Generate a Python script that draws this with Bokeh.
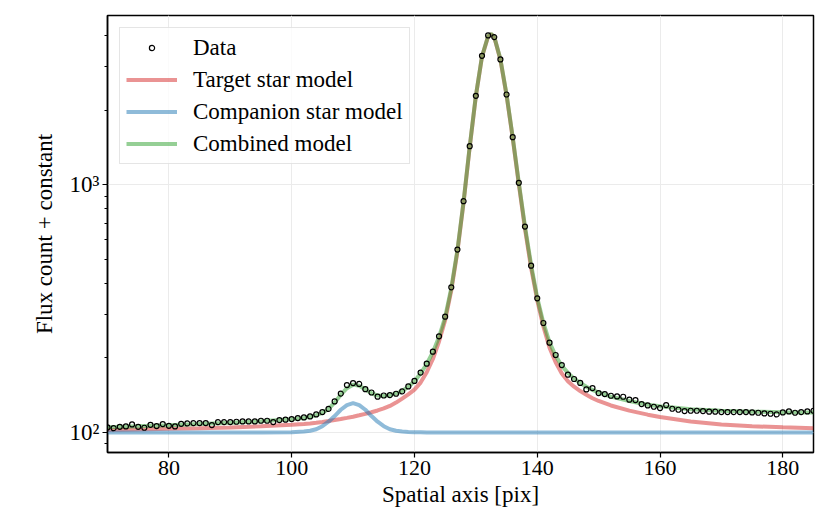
from bokeh.plotting import figure
from bokeh.models import Range1d, FixedTicker, Legend, LegendItem, ColumnDataSource
from bokeh.embed import file_html
from bokeh.resources import INLINE

# ---- data ----
spatial_pix = list(range(70, 186))
flux_data = [
    104.8, 104.1, 105.4, 105.8, 107.8, 105.4, 104.5, 107.4, 106.1, 108.1,   # 70-79
    106.4, 105.8, 108.4, 108.8, 109.1, 109.1, 109.1, 107.1, 110.1, 110.1,   # 80-89
    110.1, 110.5, 110.8, 110.8, 110.8, 111.5, 111.5, 110.1, 112.2, 112.6,   # 90-99
    113.3, 114.3, 115.0, 116.1, 118.3, 120.9, 124.5, 133.5, 143.5, 155.4,   # 100-109
    158.3, 157.0, 149.5, 145.0, 139.5, 141.0, 141.6, 143.3, 146.5, 153.5,   # 110-119
    161.5, 174.5, 189.5, 212.0, 244.4, 293.6, 385.7, 547.6, 859.0, 1433.0,  # 120-129
    2289.0, 3321.0, 4013.0, 3952.0, 3210.0, 2317.0, 1558.0, 1019.0, 678.5, 471.8,  # 130-139
    348.1, 276.7, 230.5, 205.5, 187.2, 171.1, 164.4, 158.5, 149.2, 151.1,   # 140-149
    144.3, 142.9, 140.7, 139.8, 139.4, 135.6, 135.2, 130.2, 128.6, 127.0,   # 150-159
    125.5, 129.0, 124.7, 123.5, 122.0, 122.4, 122.4, 122.0, 121.3, 121.3,   # 160-169
    120.9, 120.9, 120.9, 120.9, 120.9, 120.5, 120.1, 119.4, 119.0, 118.3,   # 170-179
    120.5, 121.6, 120.1, 120.9, 121.6, 122.4,                               # 180-185
]

model_pix = [70, 75, 80, 85, 90, 95, 100, 102, 103, 104, 105, 106, 107, 108, 109,
             110, 111, 112, 113, 114, 115, 116, 117, 118, 119, 120, 121, 122, 123,
             124, 125, 126, 127, 128, 129, 130, 131, 132, 132.5, 133, 134, 135, 136,
             137, 138, 139, 140, 141, 142, 143, 144, 145, 146, 147, 148, 149, 150,
             152, 155, 158, 160, 165, 170, 175, 180, 185]

target_model = [102.4, 102.9, 103.4, 104.0, 104.8, 105.9, 107.4, 108.2, 108.8, 109.5,
                110.3, 111.2, 112.2, 113.3, 114.5, 115.8, 117.3, 118.9, 120.7, 122.7,
                125.0, 128.0, 132.0, 137.0, 142.5, 149.0, 159.0, 175.0, 198.0, 233.0,
                284.0, 375.0, 538.0, 848.0, 1420.0, 2280.0, 3290.0, 3980.0, 4060.0,
                3950.0, 3200.0, 2300.0, 1545.0, 1005.0, 665.0, 462.0, 342.0, 268.0,
                220.0, 192.0, 173.0, 161.0, 153.0, 147.0, 142.0, 137.5, 134.0, 128.5,
                122.5, 118.0, 115.5, 110.8, 107.8, 106.0, 104.9, 104.1]

companion_model = [100.0, 100.0, 100.0, 100.0, 100.0, 100.0, 100.2, 100.8, 101.6, 103.0,
                   106.0, 110.5, 116.5, 123.5, 129.0, 131.4, 129.0, 123.5, 116.5, 110.5,
                   106.0, 103.0, 101.6, 100.8, 100.4, 100.2, 100.1, 100.0, 100.0, 100.0,
                   100.0, 100.0, 100.0, 100.0, 100.0, 100.0, 100.0, 100.0, 100.0,
                   100.0, 100.0, 100.0, 100.0, 100.0, 100.0, 100.0, 100.0, 100.0,
                   100.0, 100.0, 100.0, 100.0, 100.0, 100.0, 100.0, 100.0, 100.0, 100.0,
                   100.0, 100.0, 100.0, 100.0, 100.0, 100.0, 100.0, 100.0]

combined_model = [105.0, 106.0, 107.0, 108.3, 109.5, 111.0, 113.0, 114.5, 115.8, 117.5,
                  120.0, 124.5, 132.0, 142.0, 151.0, 156.0, 154.5, 149.5, 144.0, 141.0,
                  140.5, 141.5, 143.5, 147.0, 153.0, 161.0, 173.0, 189.0, 211.0, 243.0,
                  292.0, 383.0, 545.0, 855.0, 1430.0, 2290.0, 3300.0, 3990.0, 4070.0,
                  3960.0, 3220.0, 2320.0, 1560.0, 1020.0, 680.0, 475.0, 350.0, 277.0,
                  231.0, 204.0, 186.0, 174.0, 165.0, 158.5, 153.0, 148.5, 145.0, 139.5,
                  134.0, 129.5, 127.5, 124.0, 122.3, 121.3, 120.8, 120.5]

x_ticks = [80, 100, 120, 140, 160, 180]
y_ticks = [100, 1000]
y_tick_labels = {100: "10\u00b2", 1000: "10\u00b3"}
y_minor_ticks = [90, 200, 300, 400, 500, 600, 700, 800, 900, 2000, 3000, 4000]

FONT = "Liberation Serif"

p = figure(width=822, height=511,
           x_range=Range1d(70, 185), y_range=Range1d(83, 4830),
           y_axis_type="log", output_backend="svg", toolbar_location=None,
           min_border_left=107, min_border_right=9, min_border_top=15,
           min_border_bottom=59)
p.background_fill_color = "white"
p.border_fill_color = "white"
p.outline_line_color = "black"
p.outline_line_width = 1.5
p.outline_line_alpha = 1.0

src_d = ColumnDataSource(dict(x=spatial_pix, y=flux_data))
src_m = ColumnDataSource(dict(x=model_pix, t=target_model, c=companion_model,
                              m=combined_model))

r_t = p.line("x", "t", source=src_m, line_color="#d62728", line_alpha=0.5, line_width=4)
r_c = p.line("x", "c", source=src_m, line_color="#1f77b4", line_alpha=0.5, line_width=4)
r_m = p.line("x", "m", source=src_m, line_color="#2ca02c", line_alpha=0.5, line_width=4)
r_d = p.scatter("x", "y", source=src_d, marker="circle", size=5, fill_color=None,
                line_color="black", line_width=1.2)

# axes
p.xaxis.ticker = FixedTicker(ticks=x_ticks)
p.yaxis.ticker = FixedTicker(ticks=y_ticks, minor_ticks=y_minor_ticks)
p.yaxis.major_label_overrides = y_tick_labels
p.xaxis.axis_label = "Spatial axis [pix]"
p.yaxis.axis_label = "Flux count + constant"
for ax in (p.xaxis, p.yaxis):
    ax.axis_label_text_font = FONT
    ax.axis_label_text_font_size = "23px"
    ax.axis_label_text_font_style = "normal"
    ax.axis_label_text_color = "black"
    ax.major_label_text_font = FONT
    ax.major_label_text_font_size = "22px"
    ax.major_label_text_color = "black"
    ax.axis_line_color = "black"
    ax.axis_line_width = 1.5
    ax.major_tick_line_color = "black"
    ax.major_tick_line_width = 1.2
    ax.major_tick_in = 0
    ax.major_tick_out = 5
    ax.minor_tick_line_color = "black"
    ax.minor_tick_line_width = 1.0
    ax.minor_tick_in = 0
    ax.minor_tick_out = 3
    ax.major_label_standoff = 3
    ax.axis_label_standoff = 4
p.xaxis.minor_tick_line_color = None
p.yaxis.major_label_text_font_size = "23px"
p.yaxis.axis_label_standoff = 10

p.xgrid.ticker = FixedTicker(ticks=x_ticks)
p.ygrid.ticker = FixedTicker(ticks=y_ticks)
p.grid.grid_line_color = "#ebebeb"
p.grid.grid_line_width = 1

legend = Legend(items=[
    LegendItem(label="Data", renderers=[r_d]),
    LegendItem(label="Target star model", renderers=[r_t]),
    LegendItem(label="Companion star model", renderers=[r_c]),
    LegendItem(label="Combined model", renderers=[r_m]),
], location="top_left")
legend.label_text_font = FONT
legend.label_text_font_size = "23px"
legend.label_text_color = "black"
legend.border_line_color = "#cccccc"
legend.border_line_width = 1
legend.background_fill_color = "white"
legend.background_fill_alpha = 0.8
legend.glyph_width = 51
legend.glyph_height = 13
legend.label_height = 27
legend.label_standoff = 16
legend.padding = 6
legend.spacing = 5
legend.margin = 12
p.add_layout(legend)

open("out.html", "w").write(file_html(p, INLINE))
